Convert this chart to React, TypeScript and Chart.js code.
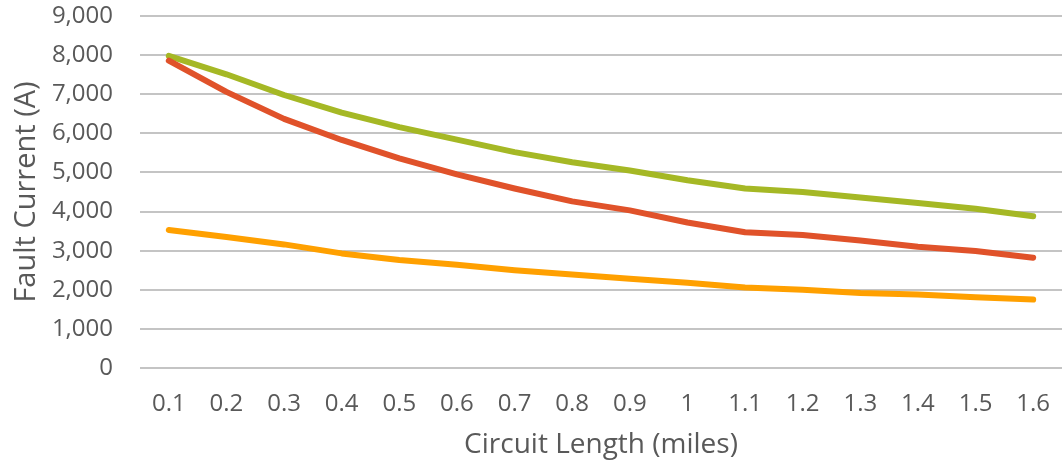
import React, { useEffect, useRef } from "react";
import { Chart, registerables } from "chart.js";

Chart.register(...registerables);

const categories = ["0.1", "0.2", "0.3", "0.4", "0.5", "0.6", "0.7", "0.8", "0.9", "1", "1.1", "1.2", "1.3", "1.4", "1.5", "1.6"];
const greenSeries = [7980, 7510, 6980, 6530, 6160, 5840, 5520, 5260, 5050, 4800, 4590, 4500, 4360, 4220, 4070, 3880];
const redSeries = [7860, 7060, 6370, 5830, 5360, 4950, 4590, 4260, 4030, 3720, 3470, 3400, 3260, 3100, 2990, 2820];
const orangeSeries = [3530, 3350, 3160, 2930, 2760, 2640, 2500, 2390, 2280, 2180, 2060, 2000, 1920, 1880, 1810, 1750];

const FONT = "'Open Sans', 'DejaVu Sans', sans-serif";
const TEXT = "#595959";

export default function App() {
  const ref = useRef<HTMLCanvasElement | null>(null);
  useEffect(() => {
    document.body.style.margin = "0";
    const ctx = ref.current!.getContext("2d")!;
    const mk = (data: number[], color: string) => ({
      data,
      borderColor: color,
      backgroundColor: color,
      borderWidth: 6,
      pointRadius: 0,
      tension: 0,
      borderCapStyle: "round" as const,
      borderJoinStyle: "round" as const,
      fill: false,
    });
    const chart = new Chart(ctx, {
      type: "line",
      data: {
        labels: categories,
        datasets: [
          mk(orangeSeries, "#FFA000"),
          mk(redSeries, "#E0522A"),
          mk(greenSeries, "#A5B825"),
        ],
      },
      options: {
        animation: false,
        responsive: false,
        maintainAspectRatio: false,
        layout: { padding: 0 },
        plugins: { legend: { display: false }, tooltip: { enabled: false } },
        scales: {
          x: {
            offset: true,
            grid: { display: false, drawTicks: false },
            border: { display: false },
            ticks: { color: TEXT, font: { family: FONT, size: 24 }, padding: 22, maxRotation: 0, autoSkip: false },
            title: { display: true, text: "Circuit Length (miles)", color: TEXT, font: { family: FONT, size: 28 }, padding: { top: 0, bottom: 7 } },
            afterFit: (s: any) => { s.height = 101; s.paddingLeft = 0; s.paddingRight = 0; },
          },
          y: {
            min: 0,
            max: 9000,
            grid: { color: "#c4c4c4", lineWidth: 2, drawTicks: false },
            border: { display: false },
            ticks: {
              stepSize: 1000,
              color: TEXT,
              font: { family: FONT, size: 24 },
              padding: 27,
              callback: (v: any) => Number(v).toLocaleString("en-US"),
            },
            title: { display: true, text: "Fault Current (A)", color: TEXT, font: { family: FONT, size: 29 }, padding: { top: 9, bottom: 0 } },
            afterFit: (s: any) => { s.width = 140; s.paddingTop = 16; s.paddingBottom = 0; },
          },
        },
      },
    });
    return () => chart.destroy();
  }, []);
  return (
    <div style={{ position: "absolute", left: 0, top: 0, width: 1062, height: 469, background: "#fff" }}>
      <canvas ref={ref} width={1062} height={469} style={{ width: 1062, height: 469 }} />
    </div>
  );
}
